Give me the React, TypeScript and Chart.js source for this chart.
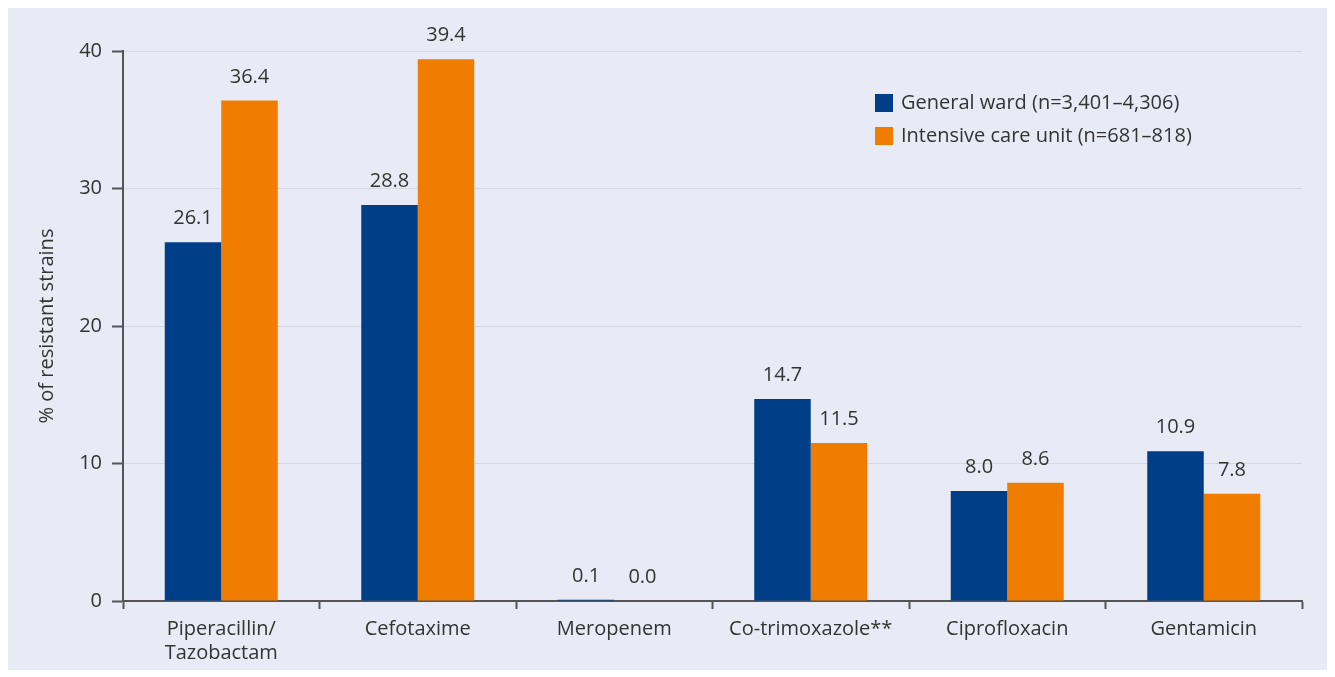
import React, { useEffect, useRef } from "react";
import { Chart, registerables } from "chart.js";

Chart.register(...registerables);

const categories: (string | string[])[] = [
  ["Piperacillin/", "Tazobactam"],
  "Cefotaxime",
  "Meropenem",
  "Co-trimoxazole**",
  "Ciprofloxacin",
  "Gentamicin",
];
const generalWard = [26.1, 28.8, 0.1, 14.7, 8.0, 10.9];
const icu = [36.4, 39.4, 0.0, 11.5, 8.6, 7.8];
const seriesLabels = ["General ward (n=3,401–4,306)", "Intensive care unit (n=681–818)"];
const yTitle = "% of resistant strains";

const BLUE = "#003e87";
const ORANGE = "#f07c00";
const BG = "#e8ebf5";
const TEXT = "#333333";
const AXIS = "#555555";
const FONT = "'Open Sans', sans-serif";
const FS = 20;

const valueLabels = {
  id: "valueLabels",
  afterDatasetsDraw(chart: any) {
    const ctx = chart.ctx;
    ctx.save();
    ctx.font = `${FS}px ${FONT}`;
    ctx.fillStyle = TEXT;
    ctx.textAlign = "center";
    ctx.textBaseline = "alphabetic";
    chart.data.datasets.forEach((ds: any, i: number) => {
      const meta = chart.getDatasetMeta(i);
      meta.data.forEach((bar: any, j: number) => {
        const v = ds.data[j] as number;
        ctx.fillText(v.toFixed(1), bar.x, bar.y - 18);
      });
    });
    ctx.restore();
  },
};

const boxLegend = {
  id: "boxLegend",
  afterDraw(chart: any) {
    const ctx = chart.ctx;
    const x0 = 867;
    const y0 = 86;
    ctx.save();
    ctx.font = `${FS}px ${FONT}`;
    ctx.textBaseline = "middle";
    ctx.textAlign = "left";
    chart.data.datasets.forEach((ds: any, i: number) => {
      const y = y0 + i * 33;
      ctx.fillStyle = ds.backgroundColor;
      ctx.fillRect(x0, y, 18, 18);
      ctx.fillStyle = TEXT;
      ctx.fillText(ds.label, x0 + 26, y + 9);
    });
    ctx.restore();
  },
};

export default function App() {
  const ref = useRef<HTMLCanvasElement>(null);
  useEffect(() => {
    if (!ref.current) return;
    const chart = new Chart(ref.current, {
      type: "bar",
      data: {
        labels: categories,
        datasets: [
          { label: seriesLabels[0], data: generalWard, backgroundColor: BLUE, categoryPercentage: 0.575, barPercentage: 1 },
          { label: seriesLabels[1], data: icu, backgroundColor: ORANGE, categoryPercentage: 0.575, barPercentage: 1 },
        ],
      },
      options: {
        animation: false,
        responsive: false,
        layout: { padding: { top: 43, right: 26, left: 0, bottom: 0 } },
        plugins: { legend: { display: false }, tooltip: { enabled: false } },
        scales: {
          x: {
            grid: {
              drawOnChartArea: false,
              drawTicks: true,
              tickLength: 8,
              tickColor: AXIS,
              tickWidth: 2,
              offset: true,
            },
            border: { color: AXIS, width: 2 },
            ticks: { color: TEXT, font: { family: FONT, size: FS, lineHeight: 1.2 }, padding: 8, maxRotation: 0, autoSkip: false },
            afterFit: (s: any) => { s.height = 69; },
          },
          y: {
            min: 0,
            max: 40,
            ticks: { stepSize: 10, color: TEXT, font: { family: FONT, size: FS }, padding: 10 },
            grid: {
              color: (c: any) => (c.tick && c.tick.value === 0 ? "rgba(0,0,0,0)" : "#d6d8df"),
              lineWidth: 1,
              tickLength: 11,
              tickColor: AXIS,
              tickWidth: 2,
            },
            border: { color: AXIS, width: 2 },
            title: { display: true, text: yTitle, color: TEXT, font: { family: FONT, size: FS, lineHeight: 1.2 }, padding: { top: 27, bottom: 0 } },
            afterFit: (s: any) => { s.width = 115; },
          },
        },
      },
      plugins: [valueLabels, boxLegend],
    });
    return () => chart.destroy();
  }, []);
  return (
    <div style={{ width: 1320, height: 662, background: BG }}>
      <canvas ref={ref} width={1320} height={662} style={{ display: "block" }} />
    </div>
  );
}
